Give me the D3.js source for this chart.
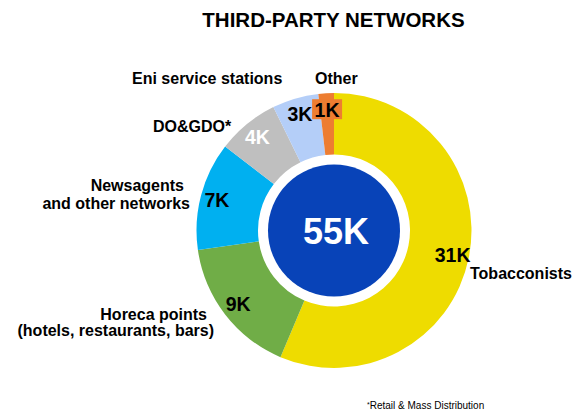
<!DOCTYPE html>
<html>
<head>
<meta charset="utf-8">
<script src="https://cdn.jsdelivr.net/npm/d3@7/dist/d3.min.js"></script>
<style>
  html, body { margin: 0; padding: 0; background: #fff; }
  svg { display: block; font-family: "Liberation Sans", Arial, sans-serif; }
</style>
</head>
<body>
<svg id="chart" width="572" height="412"></svg>
<script>
// Third-party network points of sale, thousands
const categories = ["Tobacconists", "Horeca points", "Newsagents", "DO&GDO*", "Eni service stations", "Other"];
const values = [31, 9, 7, 4, 3, 1];
const valueLabels = ["31K", "9K", "7K", "4K", "3K", "1K"];
const totalLabel = "55K";
const colors = ["#EEDC00", "#70AD47", "#00B0F0", "#BFBFBF", "#B4CEF8", "#ED7D31"];
const valueTextColors = ["#000", "#000", "#000", "#fff", "#000", "#000"];

const svg = d3.select("#chart");
const cx = 334, cy = 230.5;
const outerR = 137.5, innerR = 76, coreR = 66, labelR = 121;

svg.append("text")
  .attr("x", 333.5).attr("y", 27)
  .attr("text-anchor", "middle")
  .attr("font-size", 20.5).attr("font-weight", "bold")
  .attr("fill", "#000")
  .text("THIRD-PARTY NETWORKS");

const pie = d3.pie().sort(null).value(d => d);
const arcs = pie(values);
const arc = d3.arc().innerRadius(innerR).outerRadius(outerR);
const labelArc = d3.arc().innerRadius(labelR).outerRadius(labelR);

const g = svg.append("g").attr("transform", `translate(${cx},${cy})`);

g.selectAll("path.slice")
  .data(arcs)
  .join("path")
  .attr("class", "slice")
  .attr("d", arc)
  .attr("fill", (d, i) => colors[i]);

// centre disc with the network total
g.append("circle").attr("r", coreR).attr("fill", "#0843B8");
g.append("text")
  .attr("x", 2).attr("y", 13.5)
  .attr("text-anchor", "middle")
  .attr("font-size", 36).attr("font-weight", "bold")
  .attr("fill", "#fff")
  .text(totalLabel);

// value labels on the ring
const vl = g.selectAll("g.vlabel")
  .data(arcs)
  .join("g")
  .attr("class", "vlabel")
  .attr("transform", d => { const [x, y] = labelArc.centroid(d); return `translate(${x},${y})`; });

// the smallest slice gets a filled tag behind its value
vl.filter((d, i) => i === values.length - 1)
  .append("rect")
  .attr("x", -15).attr("y", -10.5)
  .attr("width", 30).attr("height", 20)
  .attr("fill", colors[values.length - 1]);

vl.append("text")
  .attr("text-anchor", "middle")
  .attr("y", 7)
  .attr("font-size", 19.5).attr("font-weight", "bold")
  .attr("fill", (d, i) => valueTextColors[i])
  .text((d, i) => valueLabels[i]);

// category labels
const catFont = 16;
function catText(x, y, anchor, str) {
  svg.append("text")
    .attr("x", x).attr("y", y)
    .attr("text-anchor", anchor)
    .attr("font-size", catFont).attr("font-weight", "bold")
    .attr("fill", "#000")
    .text(str);
}
catText(470, 279, "start", categories[0]);
catText(207, 320, "end", categories[1]);
catText(214, 336, "end", "(hotels, restaurants, bars)");
catText(184, 191, "end", categories[2]);
catText(190, 209, "end", "and other networks");
catText(153, 131.5, "start", categories[3]);
catText(132, 84, "start", categories[4]);
catText(315, 84, "start", categories[5]);

// footnote
const fn = svg.append("text")
  .attr("x", 367).attr("y", 409)
  .attr("font-size", 10).attr("fill", "#000");
fn.append("tspan").attr("font-size", 7).attr("dy", -2).text("*");
fn.append("tspan").attr("dy", 2).text("Retail & Mass Distribution");
</script>
</body>
</html>
